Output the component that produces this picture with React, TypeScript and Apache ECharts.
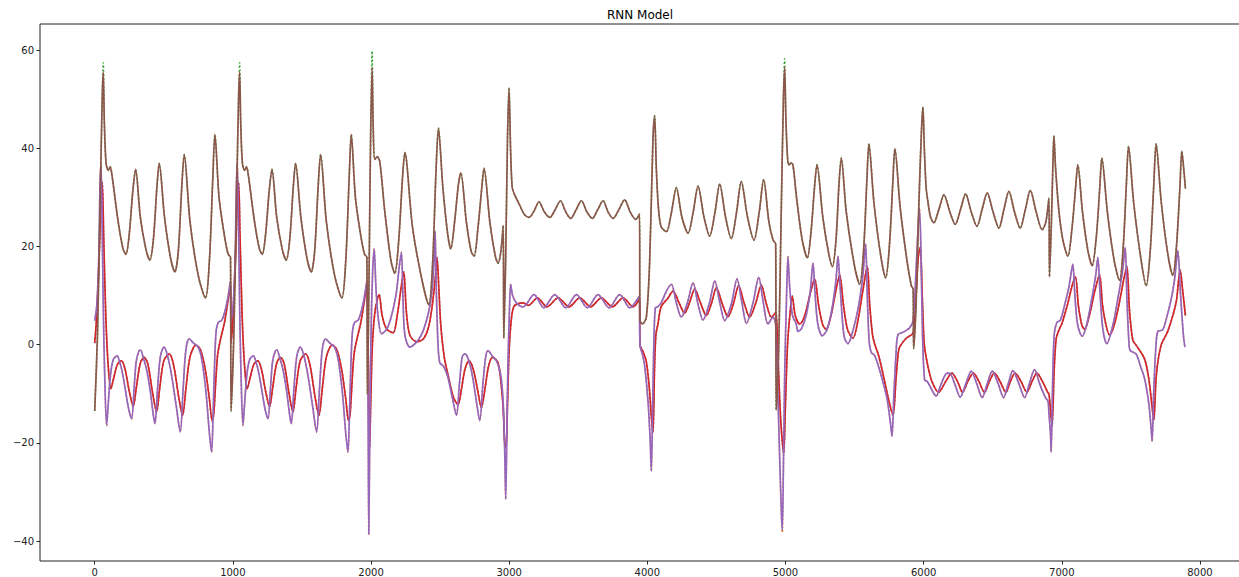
import React, { useEffect, useRef } from "react";
import * as echarts from "echarts";

const xTicks = [0, 1000, 2000, 3000, 4000, 5000, 6000, 7000, 8000];
const yTicks = [-40, -20, 0, 20, 40, 60];

// predicted third component (brown)
const predZ: [number, number][] = [
  [0,-13.5],[20,2],[40,30],[55,51],[62,55.5],[70,45],[82,37],[98,35.5],[112,36.2],[125,34.5],[170,25],[205,19.5],[226,18.4],[250,22.5],[275,31],[296,35.7],[330,26],[370,19.5],[399,17.2],[425,21.5],[450,32],[467,36.9],[505,26],[550,17.5],[580,14.8],[605,19],[630,32],[648,38.7],[690,25],[750,14],[802,9.5],[830,17],[855,34],[870,42.8],[900,30],[940,22],[966,18.4],[983,17.8],
  [987,-13.5],[1007,2],[1027,30],[1042,51],[1049,55.5],[1057,45],[1069,37],[1085,35.5],[1099,36.2],[1112,34.5],[1157,25],[1192,19.5],[1213,18.4],[1237,22.5],[1262,31],[1283,35.7],[1317,26],[1357,19.5],[1386,17.2],[1412,21.5],[1437,32],[1454,36.9],[1492,26],[1537,17.5],[1567,14.8],[1592,19],[1617,32],[1635,38.7],[1677,25],[1737,14],[1789,9.5],[1817,17],[1842,34],[1857,42.8],[1887,30],[1927,22],[1953,18.4],[1970,17.8],
  [1974,-10],[1985,12],[1997,42],[2008,56.5],[2016,44],[2027,37.7],[2045,38.3],[2064,37.2],[2100,27],[2145,17],[2172,14.5],[2200,21],[2228,34],[2245,39.1],[2300,24],[2370,13],[2418,8.1],[2445,16],[2470,35],[2488,44.1],[2520,32],[2555,22.5],[2577,19.5],[2605,25],[2632,32.5],[2650,35],[2690,25],[2725,19],[2746,18],[2775,24],[2802,32],[2818,35.9],[2860,25],[2900,18],[2920,16.6],[2940,19],[2957,24.3],
  [2961,1.3],[2975,18],[2988,42],[2999,52.3],[3010,40],[3022,32],[3040,30.5],[3076,28.4],[3110,26.5],[3144,25.9],[3180,27.2],[3216,29.1],[3255,27],[3294,25.9],[3333,27.5],[3371,29.3],[3410,27],[3446,25.7],[3485,27.5],[3523,29.3],[3563,27],[3602,25.7],[3641,27.5],[3680,29.3],[3716,27],[3752,25.7],[3794,27.5],[3836,29.5],[3876,27],[3916,25.5],[3943,26.6],
  [3947,4.9],[3965,4.2],[3993,5.6],[4017,17],[4041,42],[4053,46.6],[4065,36],[4080,28],[4100,24],[4138,23],[4175,27],[4210,32],[4250,26],[4295,22.7],[4332,27],[4367,32.3],[4410,26],[4451,22.1],[4490,27],[4524,32.7],[4566,26],[4608,21.6],[4646,27],[4680,33.2],[4725,26],[4772,21.3],[4810,27],[4842,33.6],[4880,25],[4910,21.3],[4929,20.5],
  [4933,-13.3],[4950,-2],[4968,25],[4985,50],[4994,56.5],[5003,46],[5015,38],[5025,36.6],[5040,37],[5054,36.6],[5080,30],[5120,21.5],[5158,17.7],[5185,23],[5210,32],[5228,36.6],[5270,26],[5310,19],[5339,15.9],[5365,21],[5388,33],[5404,38],[5440,27],[5500,16],[5537,12.3],[5565,19],[5590,34],[5604,40.9],[5640,29],[5690,18],[5725,13.6],[5752,20],[5777,33],[5792,39.9],[5830,28],[5880,17],[5911,12],[5924,11.3],
  [5928,-0.8],[5945,8],[5965,28],[5985,44],[5995,48.4],[6005,40],[6018,32],[6031,29.1],[6050,26],[6074,24.8],[6110,27.5],[6147,30.5],[6190,27],[6229,24.5],[6267,27.5],[6304,30.7],[6345,27],[6386,24.1],[6423,27.5],[6460,30.9],[6503,27],[6545,23.7],[6581,27.5],[6617,31.2],[6658,27],[6699,23.7],[6736,27.5],[6772,31.4],[6815,27],[6858,23.4],[6885,25],[6907,29.8],
  [6911,13.8],[6925,25],[6937,38],[6943,42.5],[6955,36],[6980,27],[7010,21],[7044,18],[7075,24],[7100,32],[7116,36.6],[7150,27],[7190,19],[7220,16.1],[7250,22],[7275,32],[7290,38],[7330,27],[7380,17],[7418,13.1],[7445,20],[7468,33],[7483,40.4],[7520,29],[7570,18],[7611,12],[7640,19],[7665,32],[7683,40.9],[7720,29],[7770,18],[7804,14.1],[7830,20],[7855,32],[7869,39.4],[7882,36],[7895,31.8],
];

// predicted second component (purple)
const predY: [number, number][] = [
  [0,4.9],[15,8],[30,18],[38,32],[45,36.9],[52,28],[62,8],[72,-6],[86,-16.5],[98,-12],[115,-6],[135,-3],[163,-2.3],[180,-3.5],[195,-5],[215,-8],[245,-13],[267,-15.1],[285,-9],[300,-3.5],[320,-1.3],[332,-1.1],[350,-2.5],[375,-5],[400,-9],[425,-14.5],[436,-16.1],[455,-9],[475,-2.5],[501,-0.5],[525,-2],[555,-6],[590,-12.5],[619,-17.8],[640,-9],[660,-1],[684,1.2],[715,0.3],[749,-0.5],[775,-3],[805,-9.5],[830,-18],[846,-21.9],[858,-13],[870,-2],[880,3],[894,4.5],[920,5],[945,7],[966,9.9],[983,13],
  [987,4.9],[1002,8],[1017,18],[1025,32],[1032,36.9],[1039,28],[1049,8],[1059,-6],[1073,-16.5],[1085,-12],[1102,-6],[1122,-3],[1150,-2.3],[1167,-3.5],[1182,-5],[1202,-8],[1232,-13],[1254,-15.1],[1272,-9],[1287,-3.5],[1307,-1.3],[1319,-1.1],[1337,-2.5],[1362,-5],[1387,-9],[1412,-14.5],[1423,-16.1],[1442,-9],[1462,-2.5],[1488,-0.5],[1512,-2],[1542,-6],[1577,-12.5],[1606,-17.8],[1627,-9],[1647,-1],[1671,1.2],[1702,0.3],[1736,-0.5],[1762,-3],[1792,-9.5],[1817,-18],[1833,-21.9],[1845,-13],[1857,-2],[1867,3],[1881,4.5],[1907,5],[1932,7],[1953,9.9],[1970,13],
  [1979,-15],[1984,-38.6],[1992,-15],[2000,2],[2012,15],[2023,19.5],[2035,12],[2050,6],[2076,2.2],[2110,3],[2140,5],[2180,10],[2205,16],[2220,18.8],[2232,9],[2245,2],[2281,-0.5],[2341,0.9],[2380,3],[2420,7],[2445,12],[2458,18],[2464,23.1],[2472,12],[2485,0],[2498,-3.7],[2525,-4.4],[2555,-6.5],[2590,-11],[2618,-14.4],[2640,-8],[2660,-2.5],[2679,-1.9],[2705,-3],[2735,-6.5],[2765,-12],[2787,-15.5],[2810,-8],[2830,-2.5],[2847,-1.2],[2875,-2.2],[2908,-3.3],[2930,-5],[2944,-7.2],[2957,-12],
  [2968,-22],[2975,-31.5],[2983,-18],[2992,-3],[3002,7],[3011,12.3],[3025,10],[3052,8.5],[3101,7.7],[3180,10.2],[3250,7.5],[3330,10.2],[3410,7.5],[3487,10.2],[3566,7.5],[3643,10.2],[3723,7.5],[3800,10.2],[3873,7.5],[3943,9.9],
  [3947,-0.1],[3965,-2],[3981,-4.4],[4005,-11.5],[4020,-19],[4029,-25.8],[4037,-15],[4047,0],[4058,7.5],[4075,7.7],[4100,8.5],[4140,11],[4174,12.3],[4210,8.5],[4246,5.6],[4290,8.5],[4331,12.6],[4365,8.5],[4403,5.0],[4450,8.5],[4488,13.0],[4525,8.5],[4560,4.9],[4610,8.5],[4649,13.4],[4685,8.5],[4717,4.3],[4765,8.5],[4806,13.7],[4840,8.5],[4873,4.2],[4910,5.6],[4929,4],
  [4940,-5],[4955,-20],[4970,-34],[4977,-37.9],[4985,-25],[4995,-5],[5008,10],[5018,18],[5030,12],[5050,6],[5078,4.2],[5090,2.7],[5115,3.2],[5150,6],[5180,11],[5199,16.6],[5215,10],[5235,4],[5267,1.8],[5300,3],[5335,7],[5365,13],[5380,18],[5395,12],[5415,4],[5428,1.3],[5452,0.2],[5490,3],[5530,8],[5560,14],[5580,20.5],[5592,10],[5605,1],[5621,-1.6],[5645,-2.2],[5665,-3.7],[5700,-7],[5735,-11],[5760,-16],[5771,-18.7],[5785,-10],[5800,-2],[5814,2],[5850,2.5],[5880,3],[5898,3.4],[5924,4.9],
  [5945,15],[5960,24],[5970,27.7],[5980,20],[5992,2],[6007,-7.2],[6025,-7.5],[6043,-8.3],[6065,-9.5],[6091,-10.5],[6120,-8.5],[6160,-6],[6188,-5.8],[6225,-8],[6265,-10.7],[6305,-8],[6345,-5.4],[6385,-8],[6424,-10.8],[6460,-8],[6497,-5.4],[6540,-8],[6579,-10.8],[6612,-8],[6646,-5.3],[6690,-8],[6731,-10.8],[6765,-8],[6803,-5.1],[6840,-8],[6882,-10.8],[6900,-11.5],[6907,-14],
  [6918,-18],[6923,-21.9],[6932,-10],[6945,2],[6964,4.5],[6990,5],[7020,8],[7050,11.5],[7070,15],[7080,16.4],[7095,10],[7115,4],[7148,1.7],[7180,4],[7215,9],[7245,14],[7261,17.7],[7278,10],[7298,3],[7326,0.2],[7370,4],[7410,10],[7440,15],[7459,19.8],[7472,9],[7485,1],[7495,-1.2],[7538,-1.9],[7570,-4.4],[7600,-7],[7630,-12],[7645,-16.5],[7654,-19.7],[7665,-10],[7680,-1],[7695,2.7],[7730,3],[7760,5.6],[7790,9],[7815,13],[7830,17],[7840,19.2],[7860,10],[7880,2],[7891,-0.5],
];

// predicted first component (red)
const predX: [number, number][] = [
  [0,0.3],[15,6],[30,16],[45,29],[55,33],[65,22],[80,6],[97,-4],[117,-9],[140,-6.5],[165,-4],[194,-3.3],[220,-5],[250,-9.5],[279,-12.6],[300,-9],[330,-3.8],[358,-2.6],[385,-4],[420,-10],[448,-13.7],[470,-9],[500,-3.3],[539,-1.9],[570,-4],[610,-11],[636,-14.4],[660,-9],[690,-2.5],[732,-0.1],[765,-1],[800,-5],[830,-11],[850,-15.5],[862,-14],[875,-8],[890,-2],[910,1],[942,4.9],[970,9.9],[983,12],
  [987,0.3],[1002,6],[1017,16],[1032,29],[1042,33],[1052,22],[1067,6],[1084,-4],[1104,-9],[1127,-6.5],[1152,-4],[1181,-3.3],[1207,-5],[1237,-9.5],[1266,-12.6],[1287,-9],[1317,-3.8],[1345,-2.6],[1372,-4],[1407,-10],[1435,-13.7],[1457,-9],[1487,-3.3],[1526,-1.9],[1557,-4],[1597,-11],[1623,-14.4],[1647,-9],[1677,-2.5],[1719,-0.1],[1752,-1],[1787,-5],[1817,-11],[1837,-15.5],[1849,-14],[1862,-8],[1877,-2],[1897,1],[1929,4.9],[1957,9.9],[1970,12],
  [1980,-3],[1990,-21],[1998,-12],[2010,0],[2030,7],[2059,10.2],[2080,6],[2112,3.2],[2160,2.4],[2190,6],[2215,11],[2237,14.8],[2255,7],[2280,2],[2329,0.6],[2380,1.2],[2420,4],[2450,9.5],[2470,15],[2478,17.7],[2490,12],[2505,4],[2530,-2.5],[2560,-6.5],[2600,-11],[2630,-12.2],[2655,-9],[2680,-5],[2710,-3.3],[2740,-5],[2770,-9],[2799,-12.8],[2825,-9],[2850,-4.5],[2879,-2.6],[2920,-3.7],[2951,-10.8],[2960,-15],
  [2968,-20],[2978,-21],[2988,-12],[3000,-1],[3015,5],[3033,7.7],[3060,8.3],[3100,8.5],[3140,8.0],[3204,9.5],[3274,7.7],[3354,9.5],[3434,7.7],[3511,9.5],[3590,7.7],[3667,9.5],[3747,7.7],[3824,9.5],[3897,7.7],[3943,9.3],
  [3947,-0.1],[3970,-1.5],[3993,-3.5],[4015,-9],[4030,-15],[4041,-17.9],[4052,-5],[4062,2],[4077,4.2],[4100,7.7],[4150,9.5],[4186,10.9],[4230,8.5],[4270,6.4],[4305,8.5],[4343,11.3],[4385,8.5],[4427,5.9],[4465,8.5],[4500,11.6],[4540,8.5],[4584,5.7],[4625,8.5],[4661,12.0],[4700,8.5],[4741,5.6],[4785,8.5],[4825,12.1],[4860,8.5],[4898,5.6],[4929,6.5],
  [4945,-2],[4965,-15],[4987,-22.2],[5000,-12],[5015,0],[5035,7],[5049,9.9],[5070,6],[5103,4.2],[5140,6],[5180,10.5],[5211,13.4],[5240,8],[5270,4],[5295,3.1],[5330,6],[5365,11],[5392,14.2],[5420,8],[5450,3],[5488,1.3],[5525,5],[5560,11],[5592,15.9],[5610,8],[5630,2],[5645,0.2],[5675,-2.3],[5710,-6.5],[5745,-11],[5778,-14.4],[5800,-7],[5815,-2],[5826,-0.5],[5874,1.3],[5924,2.4],
  [5945,10],[5962,18],[5976,19.8],[5990,10],[6005,0],[6031,-4.4],[6060,-7.5],[6108,-9.7],[6160,-7.5],[6205,-5.8],[6245,-7.5],[6282,-9.7],[6320,-7.5],[6360,-5.8],[6400,-7.5],[6440,-9.7],[6476,-7.5],[6512,-5.8],[6553,-7.5],[6595,-9.7],[6628,-7.5],[6662,-5.8],[6705,-7.5],[6747,-9.7],[6785,-7.5],[6820,-5.8],[6860,-7.5],[6898,-9.7],[6907,-10],
  [6920,-14],[6930,-16.5],[6945,-5],[6960,1.3],[6980,3],[7000,4.2],[7040,8],[7075,12],[7099,13.8],[7120,8],[7145,4],[7165,3.1],[7200,6],[7240,11],[7273,14.2],[7295,8],[7320,4],[7345,2],[7380,4],[7420,9],[7450,13.5],[7471,15.9],[7490,7],[7514,0.9],[7538,-0.1],[7599,-2.9],[7630,-7],[7655,-13],[7666,-15.4],[7685,-6],[7719,-0.1],[7767,2.7],[7827,8.5],[7845,13],[7857,15.2],[7875,11],[7895,5.9],
];

// where the true curves stick out beyond the predicted ones
const trueZPeaks: [number, number][] = [[62, 57.4], [1049, 57.4], [2008, 59.8], [4994, 58.2]];
const trueYDips: [number, number][] = [[1984, -38.9], [4977, -38.3]];

function mergeTruth(base: [number, number][], over: [number, number][]) {
  return base.map(([x, y]) => {
    const hit = over.find((p) => p[0] === x);
    return hit ? [x, hit[1]] : [x, y];
  });
}

const COLORS = {
  c0: "#1f77b4",
  c1: "#ff7f0e",
  c2: "#2ca02c",
  c3: "#d62728",
  c4: "#9467bd",
  c5: "#8c564b",
};

const fmt = (v: number) => String(v).replace("-", "\u2212");

export default function App() {
  const ref = useRef<HTMLDivElement>(null);
  useEffect(() => {
    if (!ref.current) return;
    const chart = echarts.init(ref.current, undefined, { renderer: "svg" });
    const line = (name: string, data: any[], color: string, dotted: boolean, z: number) => ({
      name,
      type: "line",
      data,
      showSymbol: false,
      symbol: "none",
      smooth: 0.3,
      z,
      lineStyle: dotted
        ? { color, width: 1.6, type: [1.5, 2.5] }
        : { color, width: 1.7 },
      emphasis: { disabled: true },
    });
    chart.setOption({
      animation: false,
      backgroundColor: "#ffffff",
      title: {
        text: "RNN Model",
        left: 640,
        top: 9,
        textAlign: "center",
        padding: 0,
        textStyle: { fontSize: 12, fontWeight: "normal", color: "#000", fontFamily: "DejaVu Sans" },
      },
      grid: { left: 40, right: 1, top: 24, bottom: 16, show: true, borderColor: "#222", borderWidth: 1, backgroundColor: "transparent" },
      xAxis: {
        type: "value",
        min: -396,
        max: 8290,
        axisLine: { show: false, onZero: false },
        splitLine: { show: false },
        axisTick: { show: true, inside: false, length: 3.5, lineStyle: { color: "#222", width: 1 }, customValues: xTicks },
        axisLabel: { customValues: xTicks, margin: 6, fontSize: 10, color: "#222", fontFamily: "DejaVu Sans", formatter: fmt },
      },
      yAxis: {
        type: "value",
        min: -44.07,
        max: 65.3,
        axisLine: { show: false, onZero: false },
        splitLine: { show: false },
        axisTick: { show: true, inside: false, length: 3.5, lineStyle: { color: "#222", width: 1 }, customValues: yTicks },
        axisLabel: { customValues: yTicks, margin: 6, fontSize: 10, color: "#222", fontFamily: "DejaVu Sans", formatter: fmt },
      },
      series: [
        line("true x", predX, COLORS.c0, true, 1),
        line("true y", mergeTruth(predY, trueYDips), COLORS.c1, true, 2),
        line("true z", mergeTruth(predZ, trueZPeaks), COLORS.c2, true, 3),
        line("pred x", predX, COLORS.c3, false, 4),
        line("pred y", predY, COLORS.c4, false, 5),
        line("pred z", predZ, COLORS.c5, false, 6),
      ],
    });
    return () => chart.dispose();
  }, []);
  return (
    <div style={{ position: "fixed", left: 0, top: 0, width: 1239, height: 577, overflow: "hidden", background: "#fff" }}>
      <div ref={ref} style={{ width: 1241, height: 577 }} />
    </div>
  );
}
